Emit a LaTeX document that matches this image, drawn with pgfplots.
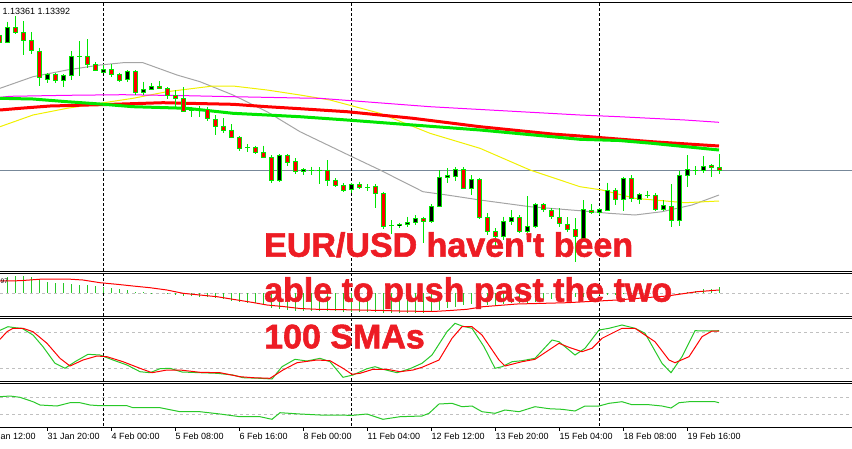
\documentclass[border=0pt]{standalone}
\usepackage{fontspec}
\setmainfont{Liberation Sans}
\newfontfamily\notefont[FakeBold=1.6]{Liberation Sans Bold}
\usepackage{pgfplots}
\usepackage{pgfplotstable}
\pgfplotsset{compat=1.18}

\definecolor{cgreen}{RGB}{0,230,0}
\definecolor{cred}{RGB}{255,0,0}
\definecolor{mamag}{RGB}{255,0,255}
\definecolor{mayel}{RGB}{240,240,0}
\definecolor{magrey}{RGB}{165,165,165}
\definecolor{bidline}{RGB}{119,136,153}
\definecolor{lvl}{RGB}{192,192,192}
\definecolor{osc}{RGB}{40,200,40}
\definecolor{note}{RGB}{237,28,36}

\pgfplotsset{
  vbar/.style 2 args={draw=none, mark=none, forget plot,
    error bars/.cd, y dir=plus, y explicit, error mark=none,
    error bar style={draw=#1, line width=#2, line cap=butt}},
}

% H4 candles, screen position in px (x) and price level in px from the top (o h l c)
\pgfplotstableread{
x o h l c
-1 35 33 44 42.7
7 42.7 21.7 43.3 27.3
15 27.3 16 34 32.7
23 32.3 21 55 40.7
31 40 32.3 54 50.7
39 51 47.7 85.7 77.7
47 79 73.3 82.7 74.3
55 74 73.3 83.3 80
63 80 74 87.3 75
71 75.7 51 80 56
79 56.7 41 76 56.7
87 56 39 68.3 64.3
95 64.3 62.3 71 70
103 72.7 65 73.3 69.3
111 69.3 64.3 76.7 74.3
119 74 72.7 81.7 80
127 79.3 70 81.7 71
135 71 70 95 92.3
143 92.3 81.7 95 89
151 89.3 83.3 90 86.7
159 86 81 89.3 88.7
167 88.3 87.3 99.3 95.7
175 95 90 108.3 98.7
183 98.3 87.3 112.3 111
191 110.7 106.7 117.3 109.7
199 109.3 106 116.7 109.3
207 109.3 107.3 120.7 118.3
215 119 115 135 126.7
223 126 118.3 132.7 130
231 130 124 138.3 137.3
239 137 136 150.7 148.3
247 147.7 144 151.7 147.7
255 147.3 145.7 154 152.3
263 152.3 145.7 158.3 157.3
271 157.3 155 183.3 180
279 180.7 154 181.7 155
287 155 154 165.7 162.3
295 161.7 158.3 174.3 171.7
303 171 168.3 175 169
311 170 166.7 175 170
319 170 167.3 184 170
327 170 160 186 180.7
335 180 178.3 186.7 185.7
343 185.7 183.3 191.7 190
351 189.3 182.7 192.7 184.3
359 184.3 181.7 189.3 187.3
367 187.3 184 190.7 187.3
375 186 184 208.3 193.3
383 193.3 191.7 229.3 226
391 225.7 220 234 225.7
399 225.7 222.7 228.3 224
407 224.3 216.7 226.7 222.3
415 222.7 215 225 218.3
423 218.3 216.7 242.7 221.7
431 221.7 204 223.3 206.7
439 206 170 207.3 177.3
447 177.3 168.3 183.3 175
455 176 167.3 180.7 169.3
463 169.3 167.3 188.3 188.3
471 188.3 175 195 179.3
479 179.3 178.3 219.3 217.3
487 217.3 213.3 235 231.7
495 231.7 228.3 246 236
503 236 216.7 240 221.7
511 221.7 210 225 217.7
519 217.3 215 233.3 231.7
527 231.7 196 233.3 226.7
535 226 202.7 228.3 204
543 204.3 203.3 211.7 209.3
551 210.7 208.3 219.3 216.7
559 217.3 208.3 226.7 223.3
567 224 217.3 231.7 229
575 229.3 218 262 236.7
583 238.3 200 240 209.3
591 210 204 214 212.3
599 212.3 208.3 215 209.3
607 210 182.7 210.7 190
615 190 188.3 205 199.3
623 199.3 176.7 210.7 178.3
631 178.3 175 201.7 198.3
639 199.3 192.7 204 194.3
647 195 190.7 198.3 195
655 195 193.3 210.7 209.3
663 209.3 200 210.7 205.7
671 206 184 227.3 220
679 220.7 170.7 226 175
687 175 155 187.3 169.3
695 170 166 175 170
703 170 156 172.7 166.7
711 165 164 177.3 167.3
719 167.3 154 174 170
}\candles

% MACD histogram tops (zero line at 293.3)
\pgfplotstableread{
x v
7 276.7
15 276
23 276
31 277.3
39 279.3
47 281.7
55 282.7
63 283.3
71 284
79 285
87 285
95 286
103 286.7
111 288.3
119 289.3
127 290
135 291.7
143 292.3
151 292.7
159 293.3
167 294
175 295
183 296
191 296
199 296.7
207 297.3
215 298.3
223 299.3
231 300.7
239 301.7
247 302.7
255 303.3
263 305
271 308.3
279 309.3
287 310
295 310.7
303 310.7
311 311
319 310.7
327 311
335 311.3
343 311.7
351 311.7
359 311.7
367 311.7
375 312
383 312.7
391 313.3
399 313.3
407 313.3
415 313.3
423 312.7
431 311.7
439 310
447 308.3
455 306.7
463 305
471 304
479 305
487 305
495 305
503 304.3
511 303.3
519 303.3
527 302.7
535 301.7
543 300
551 299.3
559 298.3
567 297.3
575 297.3
583 296.7
591 296
599 295.3
607 294.7
615 294.7
623 294.3
631 294
639 294
647 293.7
655 293.3
663 293.3
671 293.3
679 292.7
687 291.7
695 291
703 289.3
711 288.7
719 287.3
}\macd

\begin{document}
\begin{tikzpicture}
\begin{axis}[
    scale only axis,
    width=852pt, height=448pt,
    xmin=0, xmax=852, ymin=0, ymax=448,
    y dir=reverse,
    hide axis,
    clip=true,
]

% panel frames
\draw[black, line width=1pt] (0,2.5) -- (852,2.5);
\draw[black, line width=1pt] (0,271) -- (852,271);
\draw[black, line width=1pt] (0,273) -- (852,273);
\draw[black, line width=1pt] (0,316.5) -- (852,316.5);
\draw[black, line width=1pt] (0,318.5) -- (852,318.5);
\draw[black, line width=1pt] (0,381.5) -- (852,381.5);
\draw[black, line width=1pt] (0,383.5) -- (852,383.5);
\draw[black, line width=1pt] (0,427) -- (852,427);

% indicator levels
\draw[lvl, line width=0.8pt, dash pattern=on 3pt off 3pt] (0,293.3) -- (852,293.3);
\draw[lvl, line width=0.8pt, dash pattern=on 3pt off 3pt] (0,332.3) -- (852,332.3);
\draw[lvl, line width=0.8pt, dash pattern=on 3pt off 3pt] (0,368.3) -- (852,368.3);
\draw[lvl, line width=0.8pt, dash pattern=on 3pt off 3pt] (0,397) -- (852,397);
\draw[lvl, line width=0.8pt, dash pattern=on 3pt off 3pt] (0,414.3) -- (852,414.3);

% bid line
\draw[bidline, line width=1pt] (0,170) -- (852,170);

% period separators
\draw[black, line width=1pt, dash pattern=on 3pt off 2pt] (103.5,3) -- (103.5,427);
\draw[black, line width=1pt, dash pattern=on 3pt off 2pt] (351.5,3) -- (351.5,427);
\draw[black, line width=1pt, dash pattern=on 3pt off 2pt] (599.5,3) -- (599.5,427);

% moving averages
\addplot[magrey, line width=1pt] coordinates {
(0,88.3) (33,76.7) (67,70) (100,65) (123,62.7) (143,62.7) (177,75) (200,81.7)
(233,95) (267,111.7) (300,131.7) (347,154.3) (380,170) (423,191.7) (447,195)
(480,200) (530,206.7) (580,210.7) (609,213.3) (635,215) (662,211.7) (692,205) (719,195)};
\addplot[mayel, line width=1pt] coordinates {
(0,126.7) (33,115) (67,108.3) (100,103.3) (133,98.3) (167,91.7) (213,86) (233,86)
(267,90) (300,95) (330,100) (380,113.3) (430,133.3) (480,148.3) (530,170) (580,186.7)
(602,190) (635,198.3) (685,202.7) (719,201)};
\addplot[mamag, line width=1pt] coordinates {
(0,97.3) (10,96.3) (67,95.3) (123,94.7) (187,95.7) (233,96.7) (300,98) (320,98.3)
(430,106.7) (580,115) (619,116.7) (685,120) (719,122.3)};
\addplot[cred, line width=3pt] coordinates {
(0,110) (20,108.3) (50,106) (100,104.7) (163,102.7) (187,103.3) (233,104.3) (267,106.7)
(300,108.7) (347,111.7) (413,118.3) (480,126.7) (552,134) (580,136) (652,141.7) (719,146)};
\addplot[cgreen, line width=3pt] coordinates {
(0,98.3) (33,99) (67,101.7) (100,104) (133,106.7) (187,108.3) (233,113.3) (267,115)
(300,116.7) (347,120) (413,125) (480,130) (552,136.7) (580,139.3) (619,140.5) (652,143.3) (719,150)};

% candles: wicks, body frames, body fills
\addplot[vbar={cgreen}{1pt}]
  table[x expr=\thisrow{x}+0.5, y expr=\thisrow{h}, y error expr=\thisrow{l}-\thisrow{h}] {\candles};
\addplot[vbar={cgreen}{5pt}]
  table[x expr=\thisrow{x}+0.5, y expr={min(\thisrow{o},\thisrow{c})-0.5},
        y error expr={abs(\thisrow{c}-\thisrow{o})+1}] {\candles};
\addplot[vbar={cred}{3pt}]
  table[x expr=\thisrow{x}+0.5, y expr={(\thisrow{c}-\thisrow{o}>1.2) ? \thisrow{o}+0.5 : nan},
        y error expr={\thisrow{c}-\thisrow{o}-1}] {\candles};
\addplot[vbar={black}{3pt}]
  table[x expr=\thisrow{x}+0.5, y expr={(\thisrow{o}-\thisrow{c}>1.2) ? \thisrow{c}+0.5 : nan},
        y error expr={\thisrow{o}-\thisrow{c}-1}] {\candles};

% MACD histogram and signal
\addplot[vbar={osc}{1pt}]
  table[x expr=\thisrow{x}+0.5, y expr=293.3, y error expr=\thisrow{v}-293.3] {\macd};
\addplot[cred, line width=1pt] coordinates {
(0,281) (20,280.7) (43,279) (67,279) (83,280) (100,282.7) (117,284.3) (133,286)
(150,287.7) (167,290) (183,293.3) (200,295) (217,296.7) (233,299.3) (250,302) (267,305)
(283,306.5) (300,308.5) (317,309.3) (350,309.8) (383,310.5) (400,311) (433,311.5)
(450,310.5) (467,309.3) (483,306.7) (517,304) (567,302.7) (617,300) (667,296) (697,291.7) (719,290)};

% stochastic
\addplot[osc, line width=1pt] coordinates {
(0,330.3) (8,326.7) (15,327.7) (22,328.3) (33,335) (43,346.7) (55,363.3) (65,368.3)
(75,361.7) (88,354.3) (100,355) (113,360) (127,365) (140,371.7) (150,372.7) (160,368.7)
(170,368.3) (182,372) (200,372.7) (217,373.3) (233,375) (243,377.7) (260,378.3) (272,379)
(282,366.7) (295,359.3) (307,361) (320,358.3) (330,361.7) (343,377.3) (353,375) (367,368.7)
(375,366.7) (383,369.3) (397,372.7) (410,368.7) (422,363.3) (432,355) (447,331.7) (455,323.3)
(462,326) (472,328.3) (484,346.7) (495,368.3) (502,366.7) (512,361.7) (522,360.7) (535,358.3)
(552,340) (559,341.7) (575,355) (585,348.3) (599,330) (609,328.3) (622,325) (635,328.3)
(645,333.3) (662,363.3) (671,372.7) (682,356.7) (695,330.7) (709,331) (719,330.7)};
\addplot[cred, line width=1pt] coordinates {
(0,339.3) (7,331.7) (13,328.3) (23,328.3) (33,331.7) (47,343.3) (60,358.3) (70,366)
(83,360) (97,356) (107,356.7) (123,361.7) (140,368.3) (152,372.7) (167,370) (180,370)
(200,372.3) (220,372.7) (240,376.7) (253,377.7) (270,378.3) (283,370) (297,362.7) (317,360)
(330,360.7) (343,368.3) (352,374.3) (360,373.3) (373,369.3) (387,369.3) (400,371.7) (413,370)
(422,367.3) (439,360) (452,338.3) (462,326.7) (472,326.7) (482,335) (499,360) (505,366)
(522,361.7) (535,359.3) (559,343.3) (569,347.3) (582,351.7) (592,348.3) (602,338.3) (622,328.3)
(635,328.3) (655,341.7) (669,360) (675,362.7) (689,356.7) (702,336.7) (712,331) (719,331)};

% bottom oscillator
\addplot[osc, line width=1pt] coordinates {
(0,396.7) (10,396) (20,397.3) (33,401.7) (40,405) (57,406) (70,402.7) (80,402.7)
(90,405) (100,405.7) (127,405.7) (133,407.7) (160,407.7) (180,411.7) (200,411.7) (220,414)
(240,416.7) (260,416.7) (272,419.3) (280,412.7) (300,414) (320,415) (353,415.3) (367,414)
(383,419.3) (400,416.7) (422,416) (429,413.3) (439,404) (452,403.3) (462,406.7) (472,406)
(482,411.7) (495,413.3) (505,410) (519,411.7) (535,406.7) (549,408.7) (562,409.3) (575,411)
(585,406) (599,406) (609,403.3) (622,401.7) (632,404.7) (649,404.7) (662,406) (671,408)
(679,402.7) (689,401.7) (715,401.7) (719,402.7)};

% texts
\node[anchor=base west, font=\fontsize{9}{9}\selectfont, inner sep=0pt] at (2.5,14) {1.13361 1.13392};
\node[anchor=base west, font=\fontsize{6.5}{6.5}\selectfont, inner sep=0pt] at (0.5,283) {97};

% time axis
\draw[black, line width=1pt] (47.5,427) -- (47.5,431);
\draw[black, line width=1pt] (111.5,427) -- (111.5,431);
\draw[black, line width=1pt] (175.5,427) -- (175.5,431);
\draw[black, line width=1pt] (239.5,427) -- (239.5,431);
\draw[black, line width=1pt] (303.5,427) -- (303.5,431);
\draw[black, line width=1pt] (367.5,427) -- (367.5,431);
\draw[black, line width=1pt] (431.5,427) -- (431.5,431);
\draw[black, line width=1pt] (495.5,427) -- (495.5,431);
\draw[black, line width=1pt] (559.5,427) -- (559.5,431);
\draw[black, line width=1pt] (623.5,427) -- (623.5,431);
\draw[black, line width=1pt] (687.5,427) -- (687.5,431);
\node[anchor=base west, font=\fontsize{9}{9}\selectfont, inner sep=0pt] at (-16.5,439) {30 Jan 12:00};
\node[anchor=base west, font=\fontsize{9}{9}\selectfont, inner sep=0pt] at (47.5,439) {31 Jan 20:00};
\node[anchor=base west, font=\fontsize{9}{9}\selectfont, inner sep=0pt] at (111.5,439) {4 Feb 00:00};
\node[anchor=base west, font=\fontsize{9}{9}\selectfont, inner sep=0pt] at (175.5,439) {5 Feb 08:00};
\node[anchor=base west, font=\fontsize{9}{9}\selectfont, inner sep=0pt] at (239.5,439) {6 Feb 16:00};
\node[anchor=base west, font=\fontsize{9}{9}\selectfont, inner sep=0pt] at (303.5,439) {8 Feb 00:00};
\node[anchor=base west, font=\fontsize{9}{9}\selectfont, inner sep=0pt] at (367.5,439) {11 Feb 04:00};
\node[anchor=base west, font=\fontsize{9}{9}\selectfont, inner sep=0pt] at (431.5,439) {12 Feb 12:00};
\node[anchor=base west, font=\fontsize{9}{9}\selectfont, inner sep=0pt] at (495.5,439) {13 Feb 20:00};
\node[anchor=base west, font=\fontsize{9}{9}\selectfont, inner sep=0pt] at (559.5,439) {15 Feb 04:00};
\node[anchor=base west, font=\fontsize{9}{9}\selectfont, inner sep=0pt] at (623.5,439) {18 Feb 08:00};
\node[anchor=base west, font=\fontsize{9}{9}\selectfont, inner sep=0pt] at (687.5,439) {19 Feb 16:00};

\node[anchor=base west, inner sep=0pt, text=note,
  font=\notefont\fontsize{34}{34}\selectfont] at (264,256.7) {EUR/USD haven't been};
\node[anchor=base west, inner sep=0pt, text=note,
  font=\notefont\fontsize{34}{34}\selectfont] at (264,301.7) {able to push past the two};
\node[anchor=base west, inner sep=0pt, text=note,
  font=\notefont\fontsize{34}{34}\selectfont] at (264,348.3) {100 SMAs};

\end{axis}
\pgfresetboundingbox
\useasboundingbox (current axis.south west) rectangle (current axis.north east);
\end{tikzpicture}
\end{document}
